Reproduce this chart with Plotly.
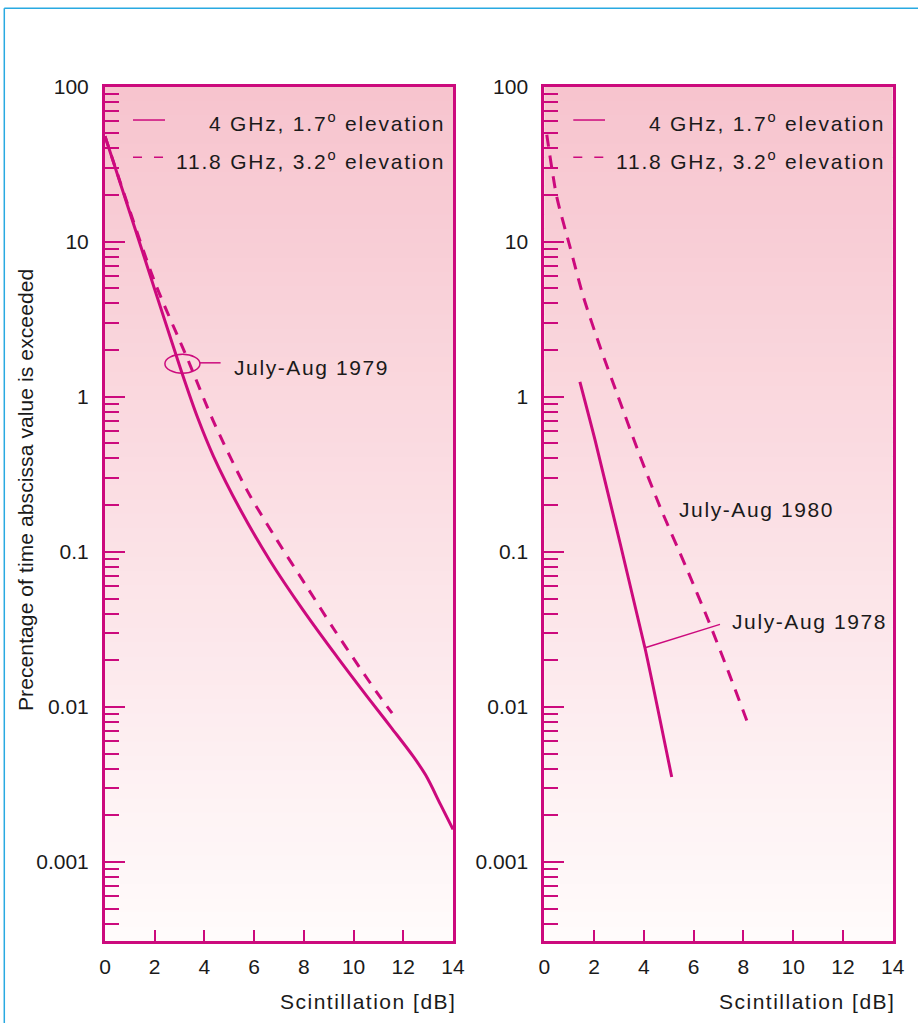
import plotly.graph_objects as go

# ---------------- data ----------------
# Left panel: July-Aug 1979
x_4ghz_1979 = [0, 1.5, 3.0, 3.74, 4.36, 5.43, 6.64, 7.97, 9.33, 10.54, 11.5, 12.4, 12.9, 13.5, 14.0]
y_4ghz_1979 = [47.9, 8.71, 1.585, 0.724, 0.415, 0.189, 0.0877, 0.0421, 0.0211, 0.0117,
               0.00741, 0.00479, 0.00363, 0.00234, 0.00162]

x_118ghz_1979 = [0, 1.0, 2.0, 3.34, 4.34, 5.71, 6.92, 8.13, 9.17, 10.26, 11.0, 11.55]
y_118ghz_1979 = [47.9, 15.8, 5.50, 1.726, 0.708, 0.250, 0.119, 0.0592, 0.0324, 0.0178, 0.0120, 0.0091]

# Right panel: 4 GHz July-Aug 1978, 11.8 GHz July-Aug 1980
x_4ghz_1978 = [1.43, 2.04, 4.05, 5.12]
y_4ghz_1978 = [1.25, 0.526, 0.0238, 0.00353]

x_118ghz_1980 = [0.10, 0.50, 1.03, 1.57, 2.24, 2.97, 3.78, 4.65, 5.7, 6.59, 7.46, 8.26]
y_118ghz_1980 = [49.0, 19.5, 9.29, 4.42, 2.10, 1.0, 0.442, 0.195, 0.0794, 0.0362, 0.01585, 0.00724]

y_tick_vals = [0.001, 0.01, 0.1, 1, 10, 100]
y_tick_text = ["0.001", "0.01", "0.1", "1", "10", "100"]
x_tick_vals = [0, 2, 4, 6, 8, 10, 12, 14]

legend_labels = ["4 GHz, 1.7<sup>o</sup> elevation", "11.8 GHz, 3.2<sup>o</sup> elevation"]
period_labels = ["July-Aug 1979", "July-Aug 1980", "July-Aug 1978"]
y_title = "Precentage of time abscissa value is exceeded"
x_title = "Scintillation [dB]"

# ---------------- style ----------------
MAG = "#CC0A7D"
TXT = "#1a1a1a"
FONT = "Liberation Sans, Arial, sans-serif"
W, H = 918, 1023


def sp(t, ls=1.5):
    return f'<span style="letter-spacing:{ls}px">{t}</span>'


fig = go.Figure()

fig.add_trace(go.Scatter(x=x_4ghz_1979, y=y_4ghz_1979, mode="lines",
                         line=dict(color=MAG, width=3, shape="spline", smoothing=1.0),
                         xaxis="x", yaxis="y", showlegend=False, hoverinfo="skip"))
fig.add_trace(go.Scatter(x=x_118ghz_1979, y=y_118ghz_1979, mode="lines",
                         line=dict(color=MAG, width=3, dash="11px,9px", shape="spline", smoothing=0.8),
                         xaxis="x", yaxis="y", showlegend=False, hoverinfo="skip"))
fig.add_trace(go.Scatter(x=x_4ghz_1978, y=y_4ghz_1978, mode="lines",
                         line=dict(color=MAG, width=3, shape="spline", smoothing=0.5),
                         xaxis="x2", yaxis="y2", showlegend=False, hoverinfo="skip"))
fig.add_trace(go.Scatter(x=x_118ghz_1980, y=y_118ghz_1980, mode="lines",
                         line=dict(color=MAG, width=3, dash="12px,9px", shape="spline", smoothing=0.7),
                         xaxis="x2", yaxis="y2", showlegend=False, hoverinfo="skip"))

ydom = [(H - 941) / H, (H - 86.7) / H]
xdom1 = [105 / W, 453 / W]
xdom2 = [544.3 / W, 892.7 / W]

xa = dict(range=[0, 14], tickvals=x_tick_vals, ticks="inside", ticklen=11, tickwidth=2,
          tickcolor=MAG, showline=True, linecolor=MAG, linewidth=3, mirror=True,
          showgrid=False, zeroline=False, tickfont=dict(family=FONT, size=21, color=TXT),
          ticklabelstandoff=5, automargin=False)
ya = dict(type="log", range=[-3.51, 2.0], tickvals=y_tick_vals, ticktext=y_tick_text,
          ticks="inside", ticklen=20, tickwidth=2, tickcolor=MAG,
          minor=dict(ticks="inside", ticklen=14, tickwidth=2, tickcolor=MAG, dtick="D1", showgrid=False),
          showline=True, linecolor=MAG, linewidth=3, mirror=True, showgrid=False, zeroline=False,
          tickfont=dict(family=FONT, size=21, color=TXT), ticklabelstandoff=9, automargin=False)

fig.update_layout(
    width=W, height=H, autosize=False, margin=dict(l=0, r=0, t=0, b=0, pad=0, autoexpand=False),
    paper_bgcolor="white", plot_bgcolor="rgba(0,0,0,0)", hovermode=False,
    xaxis=dict(xa, domain=xdom1, anchor="y"),
    yaxis=dict(ya, domain=ydom, anchor="x"),
    xaxis2=dict(xa, domain=xdom2, anchor="y2"),
    yaxis2=dict(ya, domain=ydom, anchor="x2"),
)

shapes = []
# gradient background bands
N = 60
top = (247, 196, 206)
bot = (255, 251, 251)
for xr, yr in (("x", "y"), ("x2", "y2")):
    for i in range(N):
        f = i / (N - 1)
        c = tuple(round(bot[k] + (top[k] - bot[k]) * f) for k in range(3))
        shapes.append(dict(type="rect", xref=f"{xr} domain", yref=f"{yr} domain",
                           x0=0, x1=1, y0=i / N, y1=(i + 1) / N + 0.001, layer="below",
                           line=dict(width=0), fillcolor="rgb(%d,%d,%d)" % c))

# outer blue border (left and top edges)
BL = "#29A9E1"
shapes.append(dict(type="line", xref="paper", yref="paper", x0=4.3 / W, x1=4.3 / W,
                   y0=0, y1=1 - 8.3 / H, line=dict(color=BL, width=1.5)))
shapes.append(dict(type="line", xref="paper", yref="paper", x0=4.3 / W, x1=1,
                   y0=1 - 8.3 / H, y1=1 - 8.3 / H, line=dict(color=BL, width=1.5)))

annotations = []
for xr, yr, lx0, lx1, tx in (("x", "y", 0.0805, 0.1724, 0.984), ("x2", "y2", 0.0832, 0.1742, 0.985)):
    # legend samples
    shapes.append(dict(type="line", xref=f"{xr} domain", yref=f"{yr} domain",
                       x0=lx0, x1=lx1, y0=0.961, y1=0.961, line=dict(color=MAG, width=1.5)))
    shapes.append(dict(type="line", xref=f"{xr} domain", yref=f"{yr} domain",
                       x0=lx0, x1=lx1, y0=0.9174, y1=0.9174,
                       line=dict(color=MAG, width=1.5, dash="9px,12px")))
    annotations.append(dict(xref=f"{xr} domain", yref=f"{yr} domain", x=tx, y=0.9585,
                            xanchor="right", yanchor="middle", showarrow=False,
                            text=sp(legend_labels[0], 1.8), font=dict(family=FONT, size=21, color=TXT)))
    annotations.append(dict(xref=f"{xr} domain", yref=f"{yr} domain", x=tx, y=0.914,
                            xanchor="right", yanchor="middle", showarrow=False,
                            text=sp(legend_labels[1], 1.8), font=dict(family=FONT, size=21, color=TXT)))
    # x-axis title
    annotations.append(dict(xref=f"{xr} domain", yref="paper", x=1.013, y=(H - 1001.7) / H,
                            xanchor="right", yanchor="middle", showarrow=False,
                            text=sp(x_title, 1.5), font=dict(family=FONT, size=21, color=TXT)))

# pointers (shape coordinates use data values on the log axes)
shapes.append(dict(type="circle", xref="x", yref="y", x0=2.41, x1=3.82, y0=1.42, y1=1.88,
                   line=dict(color=MAG, width=1.5)))
shapes.append(dict(type="line", xref="x", yref="y", x0=3.82, x1=4.65, y0=1.656, y1=1.656,
                   line=dict(color=MAG, width=1.5)))
shapes.append(dict(type="line", xref="x2", yref="y2", x0=4.05, x1=7.06, y0=0.02404, y1=0.03404,
                   line=dict(color=MAG, width=1.5)))

# annotation positions on log axes use log10 values
annotations.append(dict(xref="x", yref="y", x=5.1, y=0.19, xanchor="left", yanchor="middle",
                        showarrow=False, text=sp(period_labels[0], 1.6), font=dict(family=FONT, size=21, color=TXT)))
annotations.append(dict(xref="x2", yref="y2", x=5.33, y=-0.725, xanchor="left", yanchor="middle",
                        showarrow=False, text=sp(period_labels[1], 1.6), font=dict(family=FONT, size=21, color=TXT)))
annotations.append(dict(xref="x2", yref="y2", x=7.48, y=-1.452, xanchor="left", yanchor="middle",
                        showarrow=False, text=sp(period_labels[2], 1.6), font=dict(family=FONT, size=21, color=TXT)))

# y-axis title
annotations.append(dict(xref="paper", yref="paper", x=25 / W, y=(H - 490) / H, xanchor="center",
                        yanchor="middle", textangle=-90, showarrow=False,
                        text=sp(y_title, 0.1), font=dict(family=FONT, size=21, color=TXT)))

fig.update_layout(shapes=shapes, annotations=annotations)
fig.write_html("out.html", config={"displayModeBar": False, "staticPlot": True},
               post_script="document.body.style.margin='0';document.body.style.overflow='hidden';")
